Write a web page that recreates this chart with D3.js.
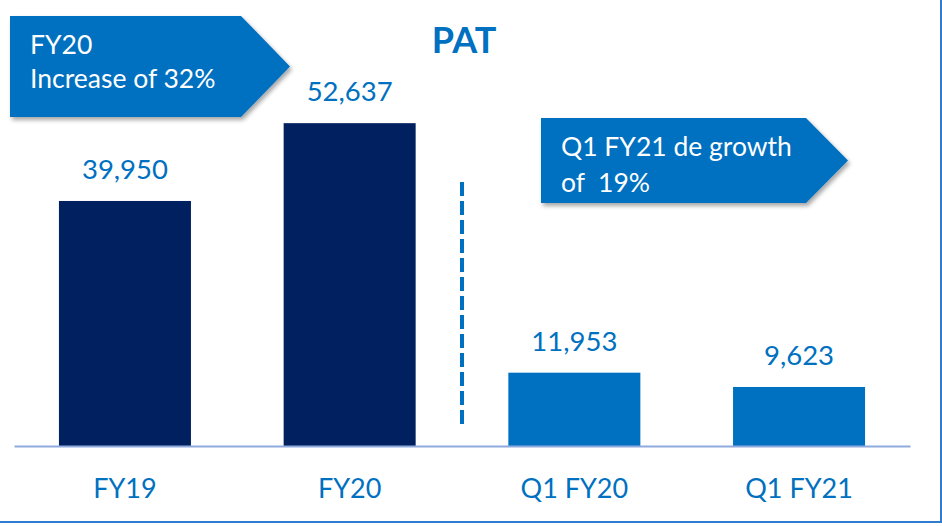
<!DOCTYPE html>
<html><head><meta charset="utf-8">
<script src="https://cdn.jsdelivr.net/npm/d3@7"></script>
<style>html,body{margin:0;padding:0;background:#fff;}svg{display:block;}</style>
</head><body>
<svg id="c" width="942" height="526"></svg>
<script>
const categories = ["FY19", "FY20", "Q1 FY20", "Q1 FY21"];
const values = [39950, 52637, 11953, 9623];
const valueLabels = ["39,950", "52,637", "11,953", "9,623"];
const barColors = ["#002060", "#002060", "#0070C0", "#0070C0"];
const title = "PAT";
const callout1 = ["FY20", "Increase of 32%"];
const callout2 = ["Q1 FY21 de growth", "of  19%"];

const svg = d3.select("#c");
const font = "Lato, Carlito, 'Open Sans', sans-serif";
const blue = "#0070C0";

const defs = svg.append("defs");
const f = defs.append("filter").attr("id","sh").attr("x","-10%").attr("y","-10%").attr("width","130%").attr("height","140%");
f.append("feDropShadow").attr("dx",2).attr("dy",3).attr("stdDeviation",2).attr("flood-color","#000").attr("flood-opacity",0.35);

const x = d3.scaleBand().domain(categories).range([14, 910]).paddingInner(0.4125).paddingOuter(0.2);
const y = d3.scaleLinear().domain([0, 60000]).range([446, 78]);

// border
svg.append("line").attr("x1",941).attr("x2",941).attr("y1",0).attr("y2",523).attr("stroke","#2E7BCF").attr("stroke-width",2);
svg.append("line").attr("x1",0).attr("x2",942).attr("y1",522).attr("y2",522).attr("stroke","#2E7BCF").attr("stroke-width",2);

// bars
svg.selectAll("rect.bar").data(values).join("rect").attr("class","bar")
  .attr("x",(d,i)=>x(categories[i])).attr("width",x.bandwidth())
  .attr("y",d=>y(d)).attr("height",d=>y(0)-y(d))
  .attr("fill",(d,i)=>barColors[i]);

// baseline axis
const axis = d3.axisBottom(x).tickSize(0).tickPadding(33);
const ag = svg.append("g").attr("transform",`translate(0,${y(0)})`).call(axis);
ag.select(".domain").attr("stroke","#8FAADC").attr("stroke-width",2);
ag.selectAll("text").attr("fill",blue).attr("font-family",font).attr("font-size",27);

// value labels
svg.selectAll("text.val").data(values).join("text").attr("class","val")
  .attr("x",(d,i)=>x(categories[i])+x.bandwidth()/2).attr("y",d=>y(d)-22)
  .attr("text-anchor","middle").attr("fill",blue).attr("font-family",font).attr("font-size",27.5)
  .text((d,i)=>valueLabels[i]);

// dashed divider
const midX = (x(categories[1]) + x.bandwidth() + x(categories[2]))/2;
svg.append("line").attr("x1",midX).attr("x2",midX).attr("y1",182).attr("y2",428)
  .attr("stroke",blue).attr("stroke-width",4).attr("stroke-dasharray","14,5");

// title
svg.append("text").attr("x",464).attr("y",53).attr("text-anchor","middle")
  .attr("fill",blue).attr("font-family",font).attr("font-weight","bold").attr("font-size",36).text(title);

// callouts
function callout(x0, y0, xr, xp, y1, lines, tx, ty, dy){
  const ym = (y0+y1)/2;
  svg.append("path").attr("d",`M${x0},${y0}L${xr},${y0}L${xp},${ym}L${xr},${y1}L${x0},${y1}Z`)
    .attr("fill",blue).attr("filter","url(#sh)");
  lines.forEach((t,i)=>svg.append("text").attr("x",tx).attr("y",ty+i*dy)
    .attr("fill","#fff").attr("font-family",font).attr("font-size",26.5).attr("xml:space","preserve").style("white-space","pre").text(t));
}
callout(10, 16, 241, 290, 117, callout1, 30, 54, 34);
callout(541, 118, 806, 848, 203, callout2, 561, 156, 36);
</script>
</body></html>
